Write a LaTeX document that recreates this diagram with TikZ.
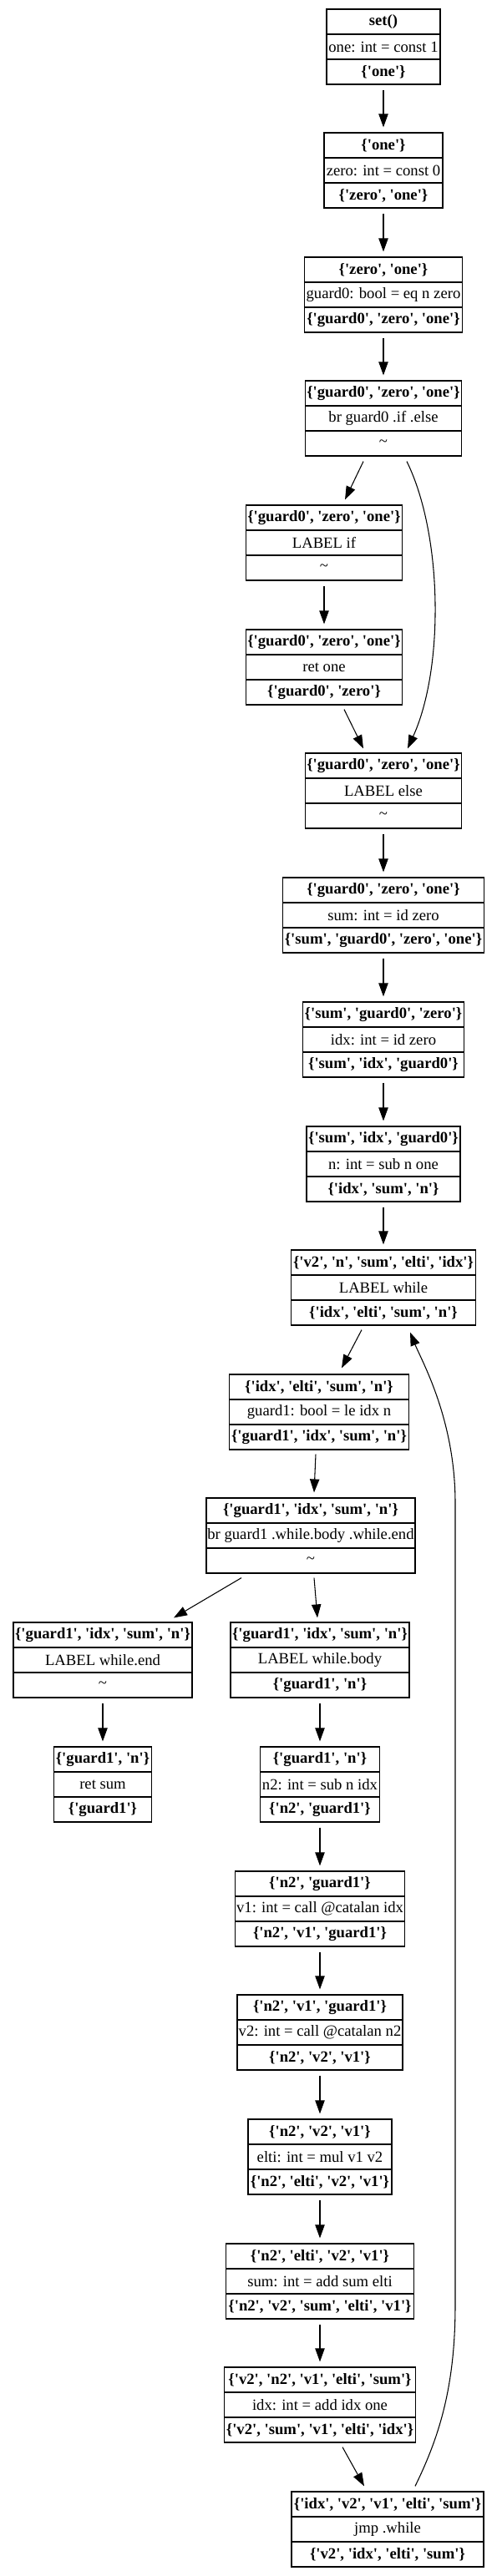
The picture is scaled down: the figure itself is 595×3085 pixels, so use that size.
\documentclass[tikz,border=0pt]{standalone}
\usepackage{fontspec}
\setmainfont{Liberation Serif}[Ligatures=TeXOff]
\usetikzlibrary{arrows.meta}
\tikzset{
 recbox/.style={draw=black, line width=0.9pt, inner sep=0pt, minimum height=67.5pt},
 recline/.style={draw=black, line width=0.9pt},
 rectext/.style={inner sep=0pt, font=\fontsize{14pt}{16pt}\selectfont},
 rectextb/.style={inner sep=0pt, font=\fontsize{14pt}{16pt}\selectfont\bfseries},
 arr/.style={-{Triangle[length=12pt,width=8.5pt]}, line width=0.8pt},
}
\newcommand\rec[7]{%
  \node[recbox, minimum width=#4*0.75pt] (#1) at (#2,#3) {};
  \draw[recline] ([yshift=11.25pt]#1.west) -- ([yshift=11.25pt]#1.east);
  \draw[recline] ([yshift=-11.25pt]#1.west) -- ([yshift=-11.25pt]#1.east);
  \node[rectextb] (#1-t) at ([yshift=22.5pt]#1.center) {#5};
  \node[rectext] (#1-m) at (#1.center) {#6};
  \node[rectext] (#1-b) at ([yshift=-22.5pt]#1.center) {#7};
}
\newcommand\vedge[2]{\draw[arr] ([shift={(0,6)}]#1.south) -- ([shift={(0,-6)}]#2.north);}
\begin{document}
\begin{tikzpicture}[x=0.75pt,y=-0.75pt]
\useasboundingbox (0,0) rectangle (595,3085);
\rec{set}{459}{56}{136}{set()}{one: int = const 1}{\textbf{\{'one'\}}}
\rec{one}{459}{204}{142}{\{'one'\}}{zero: int = const 0}{\textbf{\{'zero', 'one'\}}}
\rec{zero}{459}{353}{189}{\{'zero', 'one'\}}{guard0: bool = eq n zero}{\textbf{\{'guard0', 'zero', 'one'\}}}
\rec{brg0}{459}{501}{187}{\{'guard0', 'zero', 'one'\}}{br guard0 .if .else}{\textasciitilde}
\rec{lif}{388}{650}{187}{\{'guard0', 'zero', 'one'\}}{LABEL if}{\textasciitilde}
\rec{retone}{388}{799}{187}{\{'guard0', 'zero', 'one'\}}{ret one}{\textbf{\{'guard0', 'zero'\}}}
\rec{lelse}{459}{947}{187}{\{'guard0', 'zero', 'one'\}}{LABEL else}{\textasciitilde}
\rec{sum}{459}{1096}{241}{\{'guard0', 'zero', 'one'\}}{sum: int = id zero}{\textbf{\{'sum', 'guard0', 'zero', 'one'\}}}
\rec{idx}{459}{1245}{193}{\{'sum', 'guard0', 'zero'\}}{idx: int = id zero}{\textbf{\{'sum', 'idx', 'guard0'\}}}
\rec{n}{459}{1394}{184}{\{'sum', 'idx', 'guard0'\}}{n: int = sub n one}{\textbf{\{'idx', 'sum', 'n'\}}}
\rec{lwhile}{459}{1542}{221}{\{'v2', 'n', 'sum', 'elti', 'idx'\}}{LABEL while}{\textbf{\{'idx', 'elti', 'sum', 'n'\}}}
\rec{g1}{382}{1691}{215}{\{'idx', 'elti', 'sum', 'n'\}}{guard1: bool = le idx n}{\textbf{\{'guard1', 'idx', 'sum', 'n'\}}}
\rec{brg1}{372}{1839}{250}{\{'guard1', 'idx', 'sum', 'n'\}}{br guard1 .while.body .while.end}{\textasciitilde}
\rec{wend}{123}{1988}{214}{\{'guard1', 'idx', 'sum', 'n'\}}{LABEL while.end}{\textasciitilde}
\rec{wbody}{383}{1988}{214}{\{'guard1', 'idx', 'sum', 'n'\}}{LABEL while.body}{\textbf{\{'guard1', 'n'\}}}
\rec{retsum}{123}{2137}{117}{\{'guard1', 'n'\}}{ret sum}{\textbf{\{'guard1'\}}}
\rec{n2}{383}{2137}{143}{\{'guard1', 'n'\}}{n2: int = sub n idx}{\textbf{\{'n2', 'guard1'\}}}
\rec{v1}{383}{2286}{203}{\{'n2', 'guard1'\}}{v1: int = call @catalan idx}{\textbf{\{'n2', 'v1', 'guard1'\}}}
\rec{v2}{383}{2434}{198}{\{'n2', 'v1', 'guard1'\}}{v2: int = call @catalan n2}{\textbf{\{'n2', 'v2', 'v1'\}}}
\rec{elti}{383}{2583}{172}{\{'n2', 'v2', 'v1'\}}{elti: int = mul v1 v2}{\textbf{\{'n2', 'elti', 'v2', 'v1'\}}}
\rec{sumadd}{383}{2732}{225}{\{'n2', 'elti', 'v2', 'v1'\}}{sum: int = add sum elti}{\textbf{\{'n2', 'v2', 'sum', 'elti', 'v1'\}}}
\rec{idxadd}{383}{2880}{229}{\{'v2', 'n2', 'v1', 'elti', 'sum'\}}{idx: int = add idx one}{\textbf{\{'v2', 'sum', 'v1', 'elti', 'idx'\}}}
\rec{jmp}{464}{3029}{230}{\{'idx', 'v2', 'v1', 'elti', 'sum'\}}{jmp .while}{\textbf{\{'v2', 'idx', 'elti', 'sum'\}}}
% edges
\vedge{set}{one}
\vedge{one}{zero}
\vedge{zero}{brg0}
\draw[arr] ([shift={(-24,6)}]brg0.south) -- ([shift={(25,-6)}]lif.north);
\draw[arr] ([shift={(28,6)}]brg0.south) .. controls (530,640) and (532,800) .. ([shift={(29,-5)}]lelse.north);
\vedge{lif}{retone}
\draw[arr] ([shift={(24,5)}]retone.south) -- ([shift={(-24,-5)}]lelse.north);
\vedge{lelse}{sum}
\vedge{sum}{idx}
\vedge{idx}{n}
\vedge{n}{lwhile}
\draw[arr] ([shift={(-26,5)}]lwhile.south) -- ([shift={(27,-7)}]g1.north);
\draw[arr] ([shift={(-4,5)}]g1.south) -- ([shift={(4,-6)}]brg1.north);
\draw[arr] ([shift={(-83,5)}]brg1.south) -- ([shift={(85,-5)}]wend.north);
\draw[arr] ([shift={(4,5)}]brg1.south) -- ([shift={(-3,-5)}]wbody.north);
\vedge{wend}{retsum}
\vedge{wbody}{n2}
\vedge{n2}{v1}
\vedge{v1}{v2}
\vedge{v2}{elti}
\vedge{elti}{sumadd}
\vedge{sumadd}{idxadd}
\draw[arr] ([shift={(27,5)}]idxadd.south) -- ([shift={(-28,-6)}]jmp.north);
\draw[arr] ([shift={(33,-6)}]jmp.north) .. controls (525,2920) and (545,2860) .. (545,2760) -- (545,1800) .. controls (545,1700) and (505,1630) .. ([shift={(32,8)}]lwhile.south);
\end{tikzpicture}
\end{document}
